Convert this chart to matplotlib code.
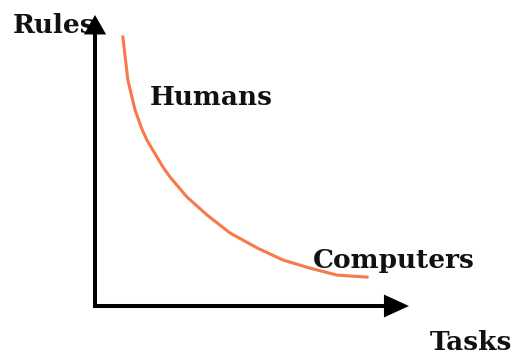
import numpy as np
import matplotlib
matplotlib.use("Agg")
import matplotlib.pyplot as plt

# curve (tasks vs rules)
tasks = [0.89, 1.05, 1.28, 1.50, 1.66, 2.17, 2.40, 2.94, 3.58, 4.31, 5.18, 6.01, 6.87, 7.73, 8.69]
rules = [9.31, 7.82, 6.78, 6.12, 5.74, 4.81, 4.46, 3.77, 3.15, 2.53, 2.01, 1.59, 1.31, 1.07, 1.00]

labels = ["Rules", "Humans", "Computers", "Tasks"]
label_x = [-2.62, 1.76, 6.96, 10.7]
label_y = [9.45, 6.96, 1.31, -1.52]

fig = plt.figure(figsize=(5.16, 3.56), dpi=100)
ax = fig.add_axes([0, 0, 1, 1])
ax.set_xlim(-3.035, 13.45)
ax.set_ylim(-1.73, 10.59)
ax.axis("off")

for t, x, y in zip(labels, label_x, label_y):
    ax.text(x, y, t, family="DejaVu Serif", fontweight="bold", fontsize=19,
            va="baseline", ha="left", color="#111111")

ax.plot(tasks, rules, color="#f8784a", lw=2.2, solid_joinstyle="round")

# axes as arrows
ax.annotate("", xy=(0, 10.07), xytext=(0, -0.07),
            arrowprops=dict(facecolor="k", edgecolor="k", width=2.9,
                            headwidth=16, headlength=14, lw=0,
                            shrink=0))
ax.annotate("", xy=(10.03, 0), xytext=(-0.064, 0),
            arrowprops=dict(facecolor="k", edgecolor="k", width=2.9,
                            headwidth=16.5, headlength=18, lw=0,
                            shrink=0))

plt.savefig("out.png", dpi=100)
